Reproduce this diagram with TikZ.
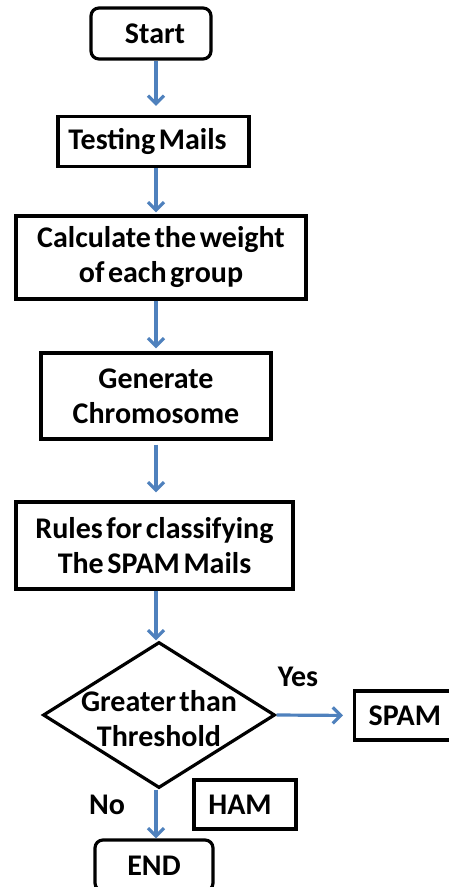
\documentclass[tikz,border=0pt]{standalone}
\usepackage{fontspec}
\setmainfont{Carlito}
\usetikzlibrary{arrows.meta,shapes.geometric}
\definecolor{arrblue}{RGB}{79,129,189}
\newcommand\myndfont{\bfseries\fontsize{30}{35}\selectfont\spaceskip=0.12em plus 0.05em\relax}
\begin{document}
\begin{tikzpicture}[x=1pt,y=-1pt,
  every node/.style={font=\myndfont, align=center, inner sep=0pt},
  box/.style={draw=black, line width=3.2pt, rectangle},
  rbox/.style={box, rounded corners=8pt},
  lbl/.style={},
  arr/.style={draw=arrblue, line width=3.2pt, -{Straight Barb[length=8pt,width=16pt]}}]
\useasboundingbox (0,0) rectangle (449,887);
\coordinate (ax) at (156,0);
\node[rbox, minimum width=120pt, minimum height=51pt] (start) at (151,33.5) {\hspace*{8pt}Start};
\node[box, minimum width=191pt, minimum height=50pt] (testing) at (153.5,141.5) {Testing Mails\hspace*{12pt}};
\node[box, minimum width=290pt, minimum height=83pt] (calc) at (161,257.5) {Calculate the weight\\of each group};
\node[box, minimum width=230pt, minimum height=86pt] (gen) at (156,396) {Generate\\Chromosome};
\node[box, minimum width=277pt, minimum height=87pt] (rules) at (154.5,545.5) {Rules for classifying\\The SPAM Mails};
\node[diamond, draw=black, line width=3.2pt, minimum width=232pt, minimum height=146pt,
  label={[yshift=-4pt]center:Greater than\\Threshold}] (dec) at (159,715) {};
\node[box, anchor=west, minimum height=49pt, text width=90pt, align=left, inner xsep=14pt] (spam) at (353,715.5) {SPAM};
\node[box, minimum width=102pt, minimum height=49pt] (ham) at (245,804.5) {HAM\hspace*{10pt}};
\node[rbox, minimum width=118pt, minimum height=51pt] (end) at (154,865.5) {END};
\node[lbl] (yes) at (298,677) {Yes};
\node[lbl] (no) at (107,805) {No};
\draw[arr, shorten >=9pt] (start.south -| ax) -- (testing.north -| ax);
\draw[arr, shorten >=2pt] (testing.south -| ax) -- (calc.north -| ax);
\draw[arr, shorten >=3pt] (calc.south -| ax) -- (gen.north -| ax);
\draw[arr, shorten <=4pt, shorten >=8pt] (gen.south -| ax) -- (rules.north -| ax);
\draw[arr] (rules.south -| ax) -- (dec.north -| ax);
\draw[arr, shorten >=10pt] (dec.east) -- (spam.west);
\draw[arr] (dec.south -| ax) -- (end.north -| ax);
\end{tikzpicture}
\end{document}
